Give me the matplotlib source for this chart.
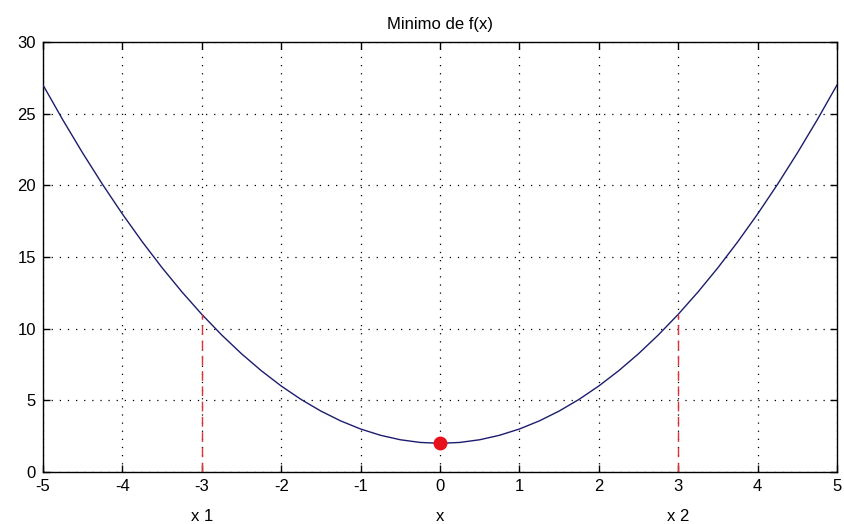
import matplotlib
matplotlib.use("Agg")
import matplotlib.pyplot as plt

# Sampled curve f(x)
x_vals = [-5, -4.75, -4.5, -4.25, -4, -3.75, -3.5, -3.25, -3, -2.75, -2.5, -2.25,
          -2, -1.75, -1.5, -1.25, -1, -0.75, -0.5, -0.25, 0,
          0.25, 0.5, 0.75, 1, 1.25, 1.5, 1.75, 2, 2.25, 2.5, 2.75,
          3, 3.25, 3.5, 3.75, 4, 4.25, 4.5, 4.75, 5]
f_vals = [27, 24.5625, 22.25, 20.0625, 18, 16.0625, 14.25, 12.5625, 11, 9.5625, 8.25, 7.0625,
          6, 5.0625, 4.25, 3.5625, 3, 2.5625, 2.25, 2.0625, 2,
          2.0625, 2.25, 2.5625, 3, 3.5625, 4.25, 5.0625, 6, 7.0625, 8.25, 9.5625,
          11, 12.5625, 14.25, 16.0625, 18, 20.0625, 22.25, 24.5625, 27]

# Minimum point and the two marked abscissae
x_min, f_min = 0, 2
x1, f_x1 = -3, 11
x2, f_x2 = 3, 11

x_ticks = [-5, -4, -3, -2, -1, 0, 1, 2, 3, 4, 5]
y_ticks = [0, 5, 10, 15, 20, 25, 30]

plt.rcParams["font.family"] = ["Liberation Sans", "DejaVu Sans"]
plt.rcParams["font.size"] = 11
plt.rcParams["axes.unicode_minus"] = False

fig = plt.figure(figsize=(8.45, 5.24), dpi=100)
ax = fig.add_axes([43 / 845, 1 - 472 / 524, (837 - 43) / 845, (472 - 42) / 524])

ax.plot(x_vals, f_vals, color="#1c1c6e", linewidth=1.0, zorder=3)
ax.plot([x1, x1], [0, f_x1], color="#e0303a", linestyle=(0, (7, 4)), linewidth=1.0, zorder=3)
ax.plot([x2, x2], [0, f_x2], color="#e0303a", linestyle=(0, (7, 4)), linewidth=1.0, zorder=3)
ax.plot([x_min], [f_min], marker="o", markersize=9, color="#e8101a", linestyle="none", zorder=4)

ax.set_xlim(-5, 5)
ax.set_ylim(0, 30)
ax.set_xticks(x_ticks)
ax.set_yticks(y_ticks)
ax.grid(True, color="black", linestyle=(0, (1, 5.5)), linewidth=0.9)
ax.tick_params(direction="in", length=5, width=1, top=True, right=True,
               labelsize=12, pad=5)
for spine in ax.spines.values():
    spine.set_linewidth(1.0)

ax.set_title("Minimo de f(x)", fontsize=12, pad=9)
ax.text(0, -0.085, "x", transform=ax.get_xaxis_transform(), ha="center", va="top", fontsize=12)
ax.text(x1, -0.085, "x 1", transform=ax.get_xaxis_transform(), ha="center", va="top", fontsize=12)
ax.text(x2, -0.085, "x 2", transform=ax.get_xaxis_transform(), ha="center", va="top", fontsize=12)

fig.savefig("out.png", dpi=100)
